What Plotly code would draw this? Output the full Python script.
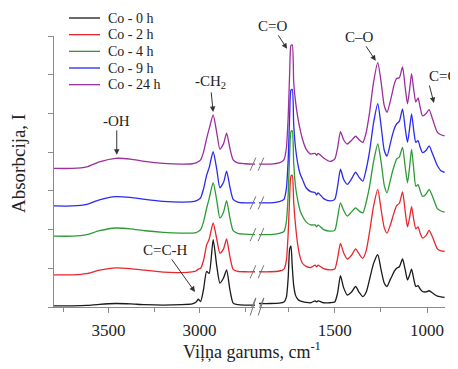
import plotly.graph_objects as go

# ---------------- data ----------------
SERIES_NAMES = ["Co - 0 h", "Co - 2 h", "Co - 4 h", "Co - 9 h", "Co - 24 h"]
SERIES_COLORS = ["#1a1a1a", "#e8262d", "#2e9a36", "#2a2af0", "#9a2f9e"]

WN_HIGH = [3800, 3700, 3620, 3550, 3460, 3380, 3300, 3200, 3100, 3040, 3020, 3007, 2994, 2978,
           2961, 2947, 2925, 2905, 2888, 2868, 2851, 2833, 2815, 2790, 2750, 2695]
WN_LOW = [1910, 1850, 1800, 1775, 1762, 1752, 1744, 1737, 1730, 1722, 1712, 1700, 1688, 1675,
          1655, 1630, 1606, 1598, 1590, 1560, 1525, 1500, 1485, 1469, 1452, 1432, 1410, 1387,
          1368, 1348, 1330, 1312, 1290, 1267, 1249, 1232, 1217, 1200, 1190, 1178, 1165, 1150,
          1133, 1118, 1106, 1095, 1084, 1072, 1061, 1049, 1037, 1025, 1005, 989, 970, 944, 925, 905]

ABS_0H_HIGH = [0.03, 0.03, 0.04, 0.07, 0.09, 0.08, 0.06, 0.05, 0.06, 0.08, 0.12, 0.20, 0.14, 0.45,
               0.92, 0.87, 1.74, 1.05, 0.62, 0.75, 0.96, 0.45, 0.10, 0.06, 0.05, 0.05]
ABS_2H_HIGH = [0.83, 0.83, 0.86, 0.95, 1.01, 0.99, 0.95, 0.90, 0.89, 0.91, 0.93, 0.98, 1.00, 1.20,
               1.60, 1.75, 2.17, 1.75, 1.39, 1.50, 1.76, 1.30, 0.97, 0.92, 0.91, 0.91]
ABS_4H_HIGH = [1.83, 1.83, 1.87, 1.97, 2.04, 2.02, 1.97, 1.93, 1.91, 1.91, 1.92, 1.95, 2.00, 2.20,
               2.55, 2.80, 3.21, 2.75, 2.30, 2.45, 2.75, 2.30, 1.97, 1.90, 1.88, 1.87]
ABS_9H_HIGH = [2.61, 2.61, 2.65, 2.77, 2.85, 2.83, 2.78, 2.73, 2.71, 2.72, 2.74, 2.77, 2.82, 3.05,
               3.40, 3.60, 4.01, 3.55, 3.08, 3.22, 3.51, 3.10, 2.78, 2.71, 2.69, 2.69]
ABS_24H_HIGH = [3.58, 3.58, 3.62, 3.75, 3.84, 3.82, 3.76, 3.71, 3.69, 3.70, 3.72, 3.75, 3.80, 4.00,
                4.35, 4.60, 4.96, 4.50, 4.08, 4.22, 4.49, 4.10, 3.80, 3.72, 3.70, 3.69]

ABS_0H_LOW = [0.09, 0.09, 0.10, 0.13, 0.25, 0.75, 1.50, 1.58, 1.05, 0.55, 0.30, 0.20, 0.16, 0.14,
              0.12, 0.11, 0.16, 0.13, 0.16, 0.11, 0.11, 0.13, 0.35, 0.81, 0.50, 0.31, 0.38, 0.53,
              0.38, 0.27, 0.38, 0.70, 1.12, 1.35, 0.96, 0.62, 0.53, 0.70, 0.80, 0.92, 1.00, 1.04,
              1.24, 0.95, 0.70, 0.82, 0.98, 0.72, 0.53, 0.55, 0.46, 0.40, 0.39, 0.42, 0.36, 0.28, 0.26, 0.25]
ABS_2H_LOW = [0.91, 0.91, 0.93, 0.98, 1.20, 1.90, 2.85, 3.38, 3.40, 2.70, 2.10, 1.60, 1.30, 1.13,
              1.05, 1.02, 1.08, 1.04, 1.08, 0.99, 0.96, 0.98, 1.25, 1.64, 1.40, 1.24, 1.33, 1.50,
              1.37, 1.26, 1.45, 1.92, 2.60, 3.04, 2.52, 2.05, 1.91, 2.10, 2.26, 2.45, 2.62, 2.68,
              2.97, 2.45, 2.07, 2.30, 2.59, 2.25, 2.02, 2.07, 1.90, 1.78, 1.85, 1.98, 1.80, 1.50, 1.45, 1.44]
ABS_4H_LOW = [1.87, 1.87, 1.90, 1.95, 2.20, 2.90, 3.95, 4.53, 4.55, 3.70, 3.10, 2.75, 2.50, 2.35,
              2.20, 2.12, 2.12, 2.07, 2.12, 2.00, 1.96, 1.98, 2.30, 2.69, 2.50, 2.35, 2.45, 2.56,
              2.48, 2.43, 2.70, 3.10, 3.75, 4.21, 3.75, 3.15, 2.95, 3.25, 3.45, 3.65, 3.82, 3.88,
              4.12, 3.60, 3.21, 3.60, 4.08, 3.55, 3.12, 3.16, 3.00, 2.86, 2.92, 3.04, 2.85, 2.54, 2.48, 2.45]
ABS_9H_LOW = [2.69, 2.69, 2.72, 2.78, 3.05, 3.80, 4.95, 5.60, 5.62, 4.70, 4.10, 3.70, 3.45, 3.30,
              3.08, 2.98, 2.95, 2.90, 2.95, 2.80, 2.74, 2.78, 3.10, 3.56, 3.30, 3.17, 3.30, 3.48,
              3.35, 3.25, 3.55, 4.00, 4.75, 5.25, 4.68, 4.05, 3.90, 4.20, 4.40, 4.60, 4.73, 4.80,
              5.12, 4.60, 4.25, 4.60, 4.99, 4.55, 4.25, 4.30, 4.12, 3.99, 4.05, 4.16, 3.95, 3.65, 3.52, 3.48]
ABS_24H_LOW = [3.69, 3.69, 3.72, 3.80, 4.10, 4.90, 6.05, 6.75, 6.77, 5.80, 5.30, 4.90, 4.60, 4.34,
               4.08, 3.95, 3.97, 3.92, 3.97, 3.85, 3.76, 3.82, 4.10, 4.53, 4.32, 4.21, 4.30, 4.41,
               4.32, 4.25, 4.50, 5.00, 5.80, 6.31, 5.81, 5.20, 5.03, 5.30, 5.50, 5.75, 5.90, 5.92,
               6.20, 5.65, 5.25, 5.60, 6.03, 5.60, 5.29, 5.40, 5.15, 4.94, 5.00, 5.10, 4.85, 4.51, 4.45, 4.42]

HIGH_VALUES = [ABS_0H_HIGH, ABS_2H_HIGH, ABS_4H_HIGH, ABS_9H_HIGH, ABS_24H_HIGH]
LOW_VALUES = [ABS_0H_LOW, ABS_2H_LOW, ABS_4H_LOW, ABS_9H_LOW, ABS_24H_LOW]

X_HIGH_MAJOR = [3500, 3000]
X_HIGH_MINOR = [3750, 3250, 2750]
X_LOW_MAJOR = [1500, 1000]
X_LOW_MINOR = [1750, 1250]
Y_TICKS = [0, 1, 2, 3, 4, 5, 6, 7]

# band labels: (text, wavenumber, absorbance, which axis, dx, dy, xanchor)
BAND_LABELS = [
    ("-OH", 3455, 3.93, "x", 0, -34, "center"),
    ("-CH<sub>2</sub>", 2925, 5.04, "x", -3, -30, "center"),
    ("C=C-H", 3025, 0.39, "x", -30, -42, "center"),
    ("C=O", 1758, 6.67, "x2", -15, -23, "center"),
    ("C\u2013O", 1278, 6.36, "x2", -16, -24, "center"),
    ("C=C", 963, 5.27, "x2", -7, -27, "left"),
]

# ---------------- figure ----------------
# page = figure + 8 px body margin; coordinates below are page pixels
FONT = "Liberation Serif"
W, H = 450, 361
ML, MT = 46, 28
PW, PH = 391, 271
MR = W - ML - PW
MB = H - MT - PH
D1 = (255 - 54) / PW
D2 = (259 - 54) / PW
AXIS_GREY = "#8a8a8a"
TEXT = "#222222"


def px2paper_x(page_x):
    return (page_x - 54) / PW


def px2paper_y(page_y):
    return (307 - page_y) / PH


fig = go.Figure()
for name, color, hv, lv in zip(SERIES_NAMES, SERIES_COLORS, HIGH_VALUES, LOW_VALUES):
    fig.add_trace(go.Scatter(x=WN_HIGH, y=hv, mode="lines", name=name, showlegend=False,
                             line=dict(color=color, width=1.3, shape="spline", smoothing=0.6),
                             xaxis="x", yaxis="y"))
    fig.add_trace(go.Scatter(x=WN_LOW, y=lv, mode="lines", name=name, showlegend=False,
                             line=dict(color=color, width=1.3, shape="spline", smoothing=0.6),
                             xaxis="x2", yaxis="y"))

shapes = []
annotations = []

# legend (drawn manually to match the tight row spacing)
for i, (name, color) in enumerate(zip(SERIES_NAMES, SERIES_COLORS)):
    row_y = px2paper_y(18 + i * 16.67)
    shapes.append(dict(type="line", xref="paper", yref="paper",
                       x0=px2paper_x(69), x1=px2paper_x(100), y0=row_y, y1=row_y,
                       line=dict(color=color, width=1.3)))
    annotations.append(dict(text=name, xref="paper", yref="paper", x=px2paper_x(106), y=row_y,
                            xanchor="left", yanchor="middle", showarrow=False,
                            font=dict(family=FONT, size=14, color=TEXT)))

# axis-break marks "//"
px_x = 1.0 / PW
px_y = 7.0 / PH


def slash_pair(yref, yc, half_h):
    out = []
    for xc_px in (253, 261):
        xc = px2paper_x(xc_px)
        out.append(dict(type="line", xref="paper", yref=yref,
                        x0=xc - 2.8 * px_x, x1=xc + 2.8 * px_x,
                        y0=yc - half_h, y1=yc + half_h,
                        line=dict(color="#777777", width=1)))
    return out


for hv, lv in zip(HIGH_VALUES, LOW_VALUES):
    yc = (hv[-1] + lv[0]) / 2
    shapes += slash_pair("y", yc, 6.5 * px_y)
shapes += slash_pair("paper", 0, 8.5 / PH)

for text, wn, a, xr, dx, dy, xa in BAND_LABELS:
    annotations.append(dict(text=text, x=wn, y=a, xref=xr, yref="y", ax=dx, ay=dy,
                            xanchor=xa, showarrow=True, arrowhead=2, arrowsize=1.1,
                            arrowwidth=1, arrowcolor="#333333", standoff=0,
                            font=dict(family=FONT, size=15, color=TEXT)))
annotations.append(dict(text="Absorbcija, I", textangle=-90, xref="paper", yref="paper",
                        x=px2paper_x(18), y=px2paper_y(164), showarrow=False,
                        xanchor="center", yanchor="middle",
                        font=dict(family=FONT, size=19, color=TEXT)))
annotations.append(dict(text="Viļņa garums, cm<sup>-1</sup>", xref="paper", yref="paper",
                        x=px2paper_x(252), y=px2paper_y(350), showarrow=False,
                        xanchor="center", yanchor="middle",
                        font=dict(family=FONT, size=18, color=TEXT)))

axis_common = dict(showline=True, linecolor=AXIS_GREY, linewidth=1, ticks="outside",
                   ticklen=5, tickcolor=AXIS_GREY, showgrid=False, zeroline=False,
                   tickfont=dict(family=FONT, size=17, color=TEXT))

fig.update_layout(
    width=W, height=H, margin=dict(l=ML, r=MR, t=MT, b=MB),
    paper_bgcolor="white", plot_bgcolor="white", showlegend=False,
    xaxis=dict(domain=[0, D1], range=[3800, 2695], tickvals=X_HIGH_MAJOR,
               ticklabelstandoff=3,
               minor=dict(tickvals=X_HIGH_MINOR, ticks="outside", ticklen=4,
                          tickcolor=AXIS_GREY),
               anchor="y", **axis_common),
    xaxis2=dict(domain=[D2, 1], range=[1910, 903], tickvals=X_LOW_MAJOR,
                ticklabelstandoff=3,
                minor=dict(tickvals=X_LOW_MINOR, ticks="outside", ticklen=4,
                           tickcolor=AXIS_GREY),
                anchor="y", **axis_common),
    yaxis=dict(range=[0, 7], tickvals=Y_TICKS, showticklabels=False, **axis_common),
    shapes=shapes, annotations=annotations,
)

fig.write_html("out.html")
